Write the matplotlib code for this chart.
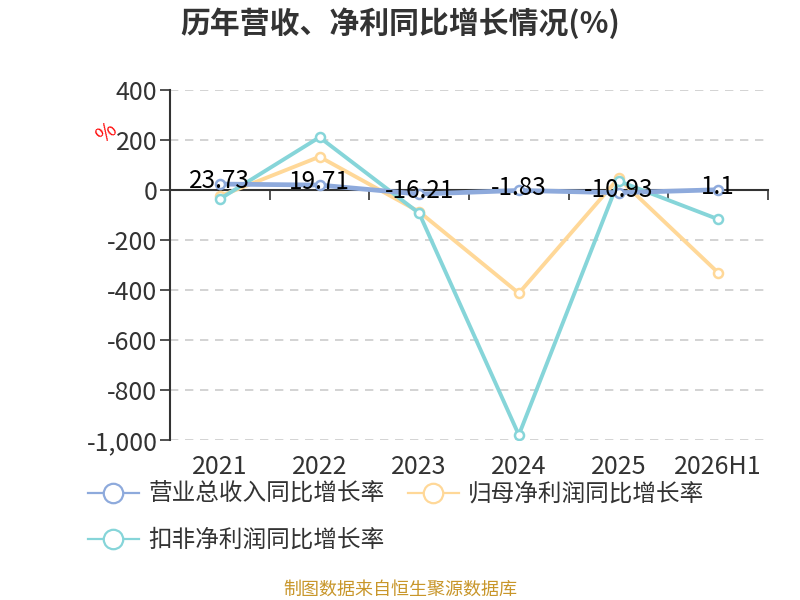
import matplotlib
matplotlib.use("Agg")
import matplotlib.pyplot as plt
from matplotlib.lines import Line2D
import numpy as np

plt.rcParams['font.family'] = ['Noto Sans CJK SC', 'DejaVu Sans']

categories = ["2021", "2022", "2023", "2024", "2025", "2026H1"]
revenue = [23.73, 19.71, -16.21, -1.83, -10.93, 1.1]
net_profit = [-25, 133, -87, -413, 47, -331]
net_profit_ex = [-36, 211, -93, -980, 36, -117]
revenue_labels = ["23.73", "19.71", "-16.21", "-1.83", "-10.93", "1.1"]
yticks = [400, 200, 0, -200, -400, -600, -800, -1000]
ytick_labels = ["400", "200", "0", "-200", "-400", "-600", "-800", "-1,000"]

names = ["营业总收入同比增长率", "归母净利润同比增长率", "扣非净利润同比增长率"]
colors = ["#8eaadc", "#ffd898", "#86d5d9"]
widths = [3.4, 2.8, 2.8]

fig = plt.figure(figsize=(8, 6), dpi=100)
ax = fig.add_axes([0.2125, 0.2667, 0.7475, 0.5833])

x = np.arange(len(categories))
series = [revenue, net_profit, net_profit_ex]
handles = []
for s, c, n, z, w in zip(series, colors, names, [5, 3, 4], widths):
    ax.plot(x, s, color=c, lw=w, zorder=z, solid_capstyle='round')
    ax.plot(x, s, 'o', ms=6.5, mfc='white', mec=c, mew=1.8, zorder=z + 0.5)
    handles.append(Line2D([0], [0], color=c, lw=1.6, marker='o', ms=14,
                          mfc='white', mec=c, mew=1.6))

for xi, v, lab in zip(x, revenue, revenue_labels):
    ax.annotate(lab, (xi, v), xytext=(0, 2), textcoords='offset points',
                ha='center', va='center', fontsize=17.5, color='black', zorder=10)

ax.set_xlim(-0.5, len(categories) - 0.5)
ax.set_ylim(-1000, 400)
ax.set_yticks(yticks)
ax.set_yticklabels(ytick_labels, fontsize=18, color='#333333')
ax.tick_params(axis='y', length=7, width=1.2, color='#333333', pad=2)
for yv in yticks:
    if yv != 0:
        ax.axhline(yv, color='#cccccc', lw=1.2, ls=(0, (5, 4)), zorder=1)

ax.spines['top'].set_visible(False)
ax.spines['right'].set_visible(False)
ax.spines['left'].set_color('#333333')
ax.spines['left'].set_linewidth(1.5)
ax.spines['bottom'].set_position(('data', 0))
ax.spines['bottom'].set_color('#333333')
ax.spines['bottom'].set_linewidth(1.5)
ax.set_xticks(np.arange(len(categories) + 1) - 0.5)
ax.set_xticklabels([])
ax.tick_params(axis='x', length=7, width=1.2, color='#333333', direction='out')

sec = ax.secondary_xaxis(-0.0)
sec.set_xticks(x)
sec.set_xticklabels(categories, fontsize=18, color='#333333')
sec.tick_params(length=0, pad=10)
sec.spines['bottom'].set_visible(False)

fig.text(0.133, 0.778, "%", color='red', fontsize=15, rotation=40,
         ha='center', va='center')

fig.text(0.5, 0.962, "历年营收、净利同比增长情况(%)", fontsize=21.5, fontweight='bold',
         color='#333333', ha='center', va='center')

leg = fig.legend([handles[0], handles[2], handles[1]],
                 [names[0], names[2], names[1]],
                 ncol=2, loc='upper left', bbox_to_anchor=(0.11, 0.195),
                 frameon=False, fontsize=17, handlelength=2.15,
                 handletextpad=0.4, columnspacing=1.0, labelspacing=0.97,
                 borderaxespad=0, borderpad=0)
for t in leg.get_texts():
    t.set_color('#333333')

fig.text(0.5, 0.0167, "制图数据来自恒生聚源数据库", fontsize=13, color='#c8962a',
         ha='center', va='center')

fig.savefig("out.png", dpi=100)
